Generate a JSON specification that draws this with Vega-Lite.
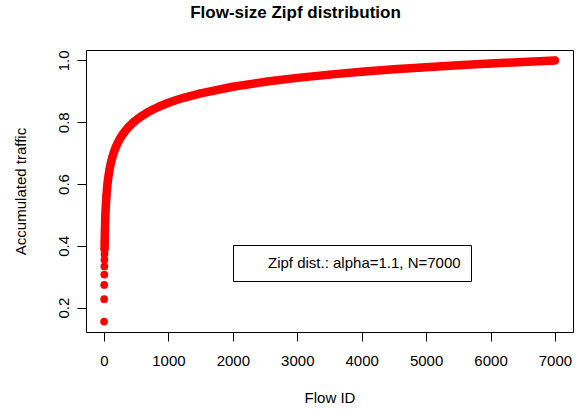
{
  "$schema": "https://vega.github.io/schema/vega-lite/v6.json",
  "width": 487,
  "height": 282,
  "autosize": {"type": "none"},
  "padding": {"left": 86, "top": 50, "right": 8, "bottom": 80},
  "background": "white",
  "title": {
    "text": "Flow-size Zipf distribution",
    "font": "Liberation Sans",
    "fontSize": 17,
    "fontWeight": "bold",
    "color": "black",
    "anchor": "middle",
    "dx": -34,
    "baseline": "bottom",
    "offset": 11
  },
  "config": {
    "view": {"stroke": "black", "strokeWidth": 1},
    "axis": {
      "grid": false,
      "domain": false,
      "tickColor": "black",
      "tickSize": 9,
      "labelFont": "Liberation Sans",
      "labelFontSize": 15,
      "labelColor": "black",
      "titleFont": "Liberation Sans",
      "titleFontSize": 15,
      "titleFontWeight": "normal",
      "titleColor": "black"
    },
    "legend": {
      "orient": "none",
      "legendX": 147,
      "legendY": 195,
      "strokeColor": "black",
      "fillColor": "white",
      "padding": 10,
      "cornerRadius": 0,
      "symbolSize": 64,
      "symbolOpacity": 0,
      "labelOffset": 10,
      "labelFont": "Liberation Sans",
      "labelFontSize": 15,
      "labelColor": "black",
      "labelLimit": 400,
      "title": null
    }
  },
  "data": {
    "values": [
      {"flow": 1, "acc": 0.15483},
      {"flow": 2, "acc": 0.22706},
      {"flow": 3, "acc": 0.27329},
      {"flow": 4, "acc": 0.30699},
      {"flow": 5, "acc": 0.33336},
      {"flow": 6, "acc": 0.35493},
      {"flow": 7, "acc": 0.37314},
      {"flow": 8, "acc": 0.38886},
      {"flow": 9, "acc": 0.40267},
      {"flow": 10, "acc": 0.41497},
      {"flow": 12, "acc": 0.43611},
      {"flow": 14, "acc": 0.45377},
      {"flow": 16, "acc": 0.46898},
      {"flow": 18, "acc": 0.48229},
      {"flow": 20, "acc": 0.4941},
      {"flow": 23, "acc": 0.50963},
      {"flow": 26, "acc": 0.52311},
      {"flow": 30, "acc": 0.53869},
      {"flow": 34, "acc": 0.55216},
      {"flow": 38, "acc": 0.56402},
      {"flow": 43, "acc": 0.57706},
      {"flow": 48, "acc": 0.58855},
      {"flow": 54, "acc": 0.60073},
      {"flow": 60, "acc": 0.61151},
      {"flow": 67, "acc": 0.6227},
      {"flow": 75, "acc": 0.63401},
      {"flow": 84, "acc": 0.64527},
      {"flow": 94, "acc": 0.65632},
      {"flow": 105, "acc": 0.66707},
      {"flow": 118, "acc": 0.6783},
      {"flow": 132, "acc": 0.68897},
      {"flow": 148, "acc": 0.69973},
      {"flow": 165, "acc": 0.70986},
      {"flow": 185, "acc": 0.72039},
      {"flow": 207, "acc": 0.73063},
      {"flow": 232, "acc": 0.7409},
      {"flow": 260, "acc": 0.75105},
      {"flow": 290, "acc": 0.76067},
      {"flow": 325, "acc": 0.77061},
      {"flow": 365, "acc": 0.78061},
      {"flow": 410, "acc": 0.79052},
      {"flow": 460, "acc": 0.80021},
      {"flow": 520, "acc": 0.81042},
      {"flow": 590, "acc": 0.8208},
      {"flow": 670, "acc": 0.83113},
      {"flow": 760, "acc": 0.84124},
      {"flow": 860, "acc": 0.85103},
      {"flow": 970, "acc": 0.86045},
      {"flow": 1100, "acc": 0.87017},
      {"flow": 1250, "acc": 0.87993},
      {"flow": 1500, "acc": 0.89363},
      {"flow": 2000, "acc": 0.91476},
      {"flow": 2500, "acc": 0.93073},
      {"flow": 3000, "acc": 0.94352},
      {"flow": 3500, "acc": 0.95415},
      {"flow": 4000, "acc": 0.96323},
      {"flow": 4500, "acc": 0.97114},
      {"flow": 5000, "acc": 0.97814},
      {"flow": 5500, "acc": 0.9844},
      {"flow": 6000, "acc": 0.99007},
      {"flow": 6500, "acc": 0.99524},
      {"flow": 7000, "acc": 1.0}
    ]
  },
  "encoding": {
    "x": {
      "field": "flow",
      "type": "quantitative",
      "scale": {"domain": [-280, 7280], "nice": false, "zero": false},
      "axis": {"title": "Flow ID", "values": [0, 1000, 2000, 3000, 4000, 5000, 6000, 7000], "format": "d", "labelPadding": 12, "titlePadding": 22, "labelFlush": false}
    },
    "y": {
      "field": "acc",
      "type": "quantitative",
      "scale": {"domain": [0.121, 1.0338], "nice": false, "zero": false},
      "axis": {"title": "Accumulated traffic", "values": [0.2, 0.4, 0.6, 0.8, 1.0], "format": ".1f", "labelAngle": -90, "labelAlign": "center", "labelBaseline": "bottom", "labelPadding": 6, "titlePadding": 28, "labelFlush": false}
    }
  },
  "layer": [
    {
      "transform": [{"filter": "datum.flow >= 8"}],
      "mark": {"type": "line", "color": "#ff0000", "strokeWidth": 8.5, "strokeCap": "round", "strokeJoin": "round"}
    },
    {
      "mark": {"type": "point", "filled": true, "shape": "circle", "size": 60, "opacity": 1},
      "encoding": {
        "color": {"datum": "Zipf dist.: alpha=1.1, N=7000", "type": "nominal", "scale": {"range": ["#ff0000"]}}
      }
    }
  ]
}
